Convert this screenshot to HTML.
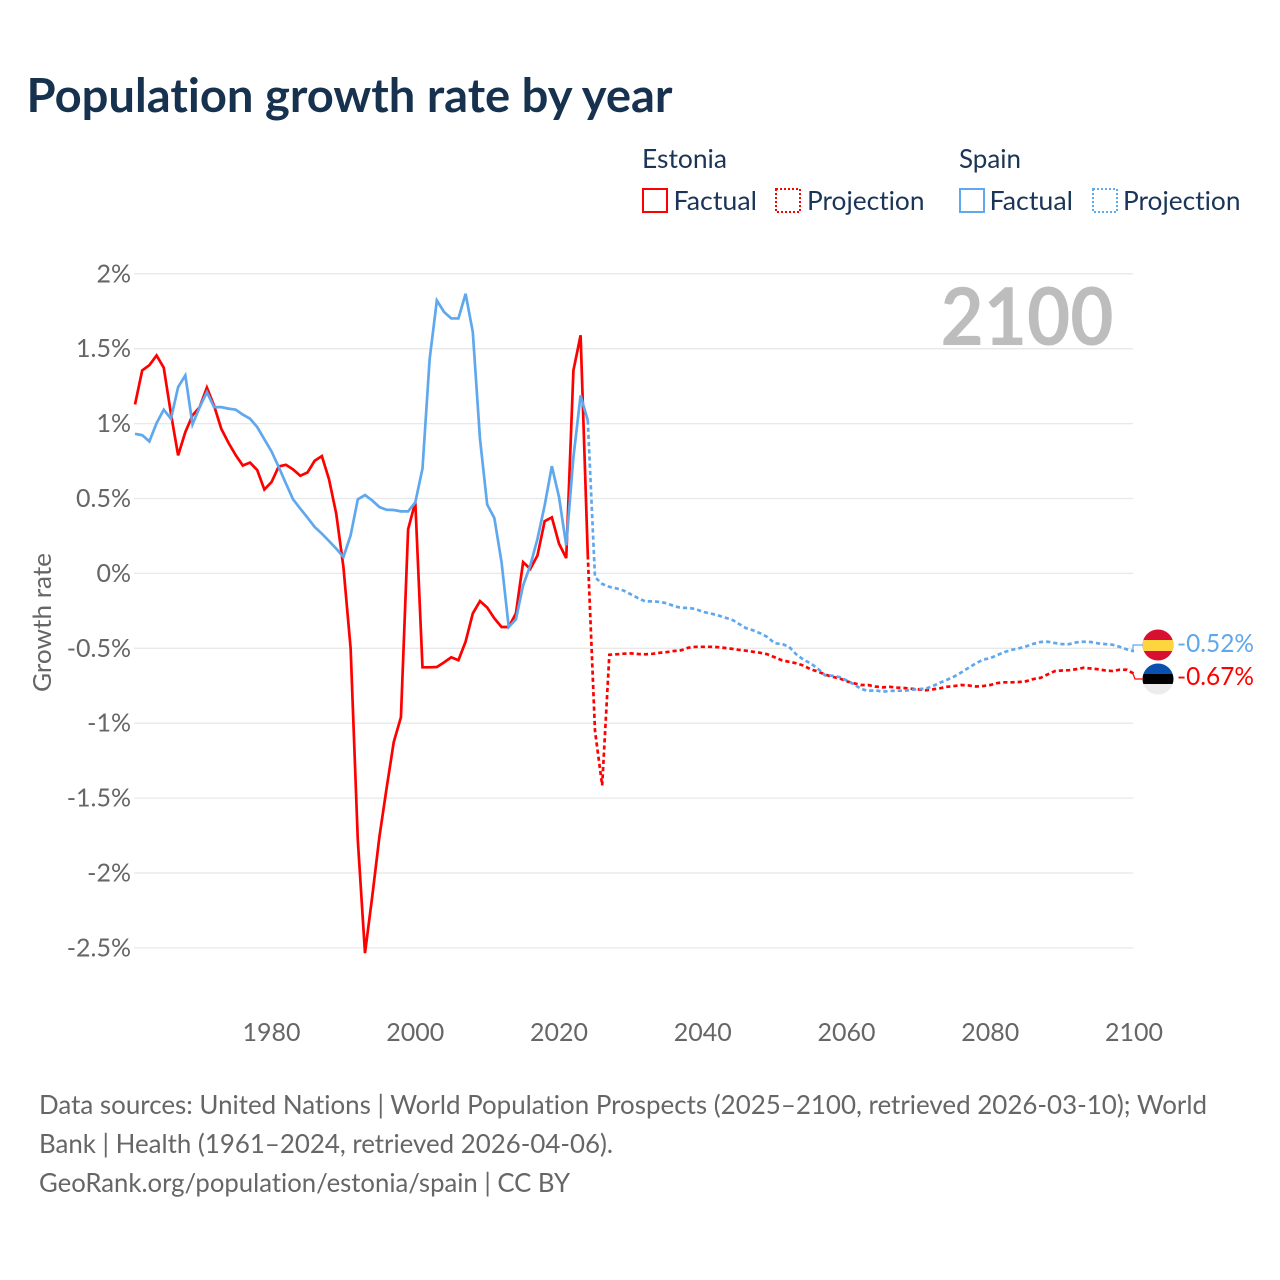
<!DOCTYPE html>
<html lang="en">
<head>
<meta charset="utf-8">
<title>Population growth rate by year</title>
<style>
html,body{margin:0;padding:0;background:#fff;}
svg{display:block;}
text{font-family:"Lato","Carlito","Liberation Sans",sans-serif;font-variant-ligatures:none;font-feature-settings:"liga" 0,"clig" 0;}
</style>
</head>
<body>
<svg id="chart" xmlns="http://www.w3.org/2000/svg" width="1280" height="1280" viewBox="0 0 1280 1280">
  <rect x="0" y="0" width="1280" height="1280" fill="#ffffff"/>
  <text x="26.5" y="112" font-size="47" font-weight="700" fill="#17324f" textLength="646" lengthAdjust="spacingAndGlyphs">Population growth rate by year</text>

  <g fill="#1a3557" font-size="26">
    <text x="642" y="168" textLength="85" lengthAdjust="spacingAndGlyphs">Estonia</text>
    <rect x="643" y="189" width="24" height="23" fill="none" stroke="#ff0000" stroke-width="2"/>
    <text x="673.5" y="210" textLength="83.5" lengthAdjust="spacingAndGlyphs">Factual</text>
    <rect x="776" y="189" width="24" height="23" fill="none" stroke="#ff0000" stroke-width="2" stroke-dasharray="2 2"/>
    <text x="807" y="210" textLength="117.5" lengthAdjust="spacingAndGlyphs">Projection</text>
    <text x="959" y="168" textLength="62" lengthAdjust="spacingAndGlyphs">Spain</text>
    <rect x="960" y="189" width="24" height="23" fill="none" stroke="#5fa8ee" stroke-width="2"/>
    <text x="989.5" y="210" textLength="83.5" lengthAdjust="spacingAndGlyphs">Factual</text>
    <rect x="1093" y="189" width="24" height="23" fill="none" stroke="#5fa8ee" stroke-width="2" stroke-dasharray="2 2"/>
    <text x="1123" y="210" textLength="117.5" lengthAdjust="spacingAndGlyphs">Projection</text>
  </g>

  <g id="grid"></g>
  <g id="yticks"></g>
  <g id="xticks"></g>
  <text transform="translate(51,622.5) rotate(-90)" text-anchor="middle" font-size="25" fill="#666666" textLength="139" lengthAdjust="spacingAndGlyphs">Growth rate</text>
  <text x="1113.5" y="345" text-anchor="end" font-size="80" font-weight="700" fill="#bdbdbd" textLength="173" lengthAdjust="spacingAndGlyphs">2100</text>

  <g id="series"></g>

  <defs>
    <clipPath id="clip-es"><circle cx="1158" cy="645" r="15.5"/></clipPath>
    <clipPath id="clip-ee"><circle cx="1158" cy="679" r="15.5"/></clipPath>
  </defs>
  <g clip-path="url(#clip-es)">
    <rect x="1142" y="629" width="32" height="32" fill="#d80f31"/>
    <rect x="1142" y="640" width="32" height="11" fill="#ffd53f"/>
  </g>
  <g clip-path="url(#clip-ee)">
    <rect x="1142" y="663" width="32" height="11" fill="#0a50ae"/>
    <rect x="1142" y="674" width="32" height="10" fill="#000000"/>
    <rect x="1142" y="684" width="32" height="11" fill="#ececec"/>
  </g>
  <g id="end-labels"></g>

  <g fill="#666666" font-size="26">
    <text x="39" y="1114" textLength="1168" lengthAdjust="spacingAndGlyphs">Data sources: United Nations | World Population Prospects (2025–2100, retrieved 2026-03-10); World</text>
    <text x="39" y="1153" textLength="574" lengthAdjust="spacingAndGlyphs">Bank | Health (1961–2024, retrieved 2026-04-06).</text>
    <text x="39" y="1192" textLength="531" lengthAdjust="spacingAndGlyphs">GeoRank.org/population/estonia/spain | CC BY</text>
  </g>
</svg>
<script>
const yTickValues = [2, 1.5, 1, 0.5, 0, -0.5, -1, -1.5, -2, -2.5];
const yTickLabels = ["2%", "1.5%", "1%", "0.5%", "0%", "-0.5%", "-1%", "-1.5%", "-2%", "-2.5%"];
const xTickYears = [1980, 2000, 2020, 2040, 2060, 2080, 2100];
const factualStartYear = 1961;
const projectionStartYear = 2025;

// Estonia, 1961 to 2024
const estoniaFactual = [
  1.128, 1.355, 1.39, 1.455, 1.373, 1.066, 0.788, 0.943, 1.055, 1.11,
  1.24, 1.12, 0.966, 0.872, 0.79, 0.72, 0.74, 0.69, 0.56, 0.61,
  0.714, 0.725, 0.694, 0.652, 0.674, 0.752, 0.783, 0.627, 0.398, 0.042,
  -0.5, -1.78, -2.535, -2.16, -1.76, -1.436, -1.126, -0.96, 0.294, 0.476,
  -0.627, -0.627, -0.625, -0.594, -0.56, -0.58, -0.455, -0.267, -0.185, -0.228,
  -0.3, -0.358, -0.358, -0.267, 0.075, 0.03, 0.12, 0.349, 0.374, 0.198,
  0.102, 1.355, 1.59, 0.12
];
// Spain, 1961 to 2024
const spainFactual = [
  0.932, 0.923, 0.881, 1.003, 1.093, 1.033, 1.244, 1.322, 0.995, 1.11,
  1.21, 1.11, 1.11, 1.1, 1.093, 1.06, 1.033, 0.977, 0.895, 0.814,
  0.71, 0.6, 0.494, 0.432, 0.372, 0.31, 0.265, 0.216, 0.165, 0.109,
  0.254, 0.494, 0.523, 0.487, 0.443, 0.425, 0.423, 0.414, 0.414, 0.474,
  0.7, 1.433, 1.822, 1.745, 1.702, 1.702, 1.867, 1.611, 0.899, 0.46,
  0.369, 0.075, -0.358, -0.307, -0.08, 0.053, 0.231, 0.454, 0.716, 0.509,
  0.187, 0.776, 1.188, 1.021
];
// Estonia, 2025 to 2100
const estoniaProjection = [
  -1.05, -1.415, -0.543, -0.54, -0.536, -0.534, -0.538, -0.54, -0.537, -0.53,
  -0.525, -0.518, -0.513, -0.496, -0.49, -0.49, -0.49, -0.492, -0.497, -0.503,
  -0.51, -0.516, -0.523, -0.53, -0.54, -0.56, -0.58, -0.59, -0.6, -0.615,
  -0.64, -0.655, -0.675, -0.69, -0.7, -0.72, -0.733, -0.745, -0.745, -0.755,
  -0.761, -0.757, -0.762, -0.765, -0.77, -0.774, -0.78, -0.774, -0.767, -0.757,
  -0.752, -0.745, -0.748, -0.755, -0.752, -0.745, -0.732, -0.727, -0.727, -0.725,
  -0.72, -0.705, -0.697, -0.674, -0.652, -0.648, -0.646, -0.639, -0.63, -0.635,
  -0.64, -0.648, -0.652, -0.643, -0.643, -0.67
];
// Spain, 2025 to 2100
const spainProjection = [
  -0.025, -0.07, -0.09, -0.1, -0.115, -0.14, -0.165, -0.187, -0.187, -0.19,
  -0.2, -0.218, -0.23, -0.23, -0.238, -0.256, -0.267, -0.278, -0.294, -0.307,
  -0.336, -0.365, -0.38, -0.4, -0.425, -0.467, -0.47, -0.49, -0.54, -0.576,
  -0.6, -0.636, -0.68, -0.683, -0.692, -0.714, -0.74, -0.77, -0.785, -0.78,
  -0.79, -0.785, -0.783, -0.783, -0.778, -0.772, -0.77, -0.752, -0.73, -0.71,
  -0.688, -0.66, -0.63, -0.6, -0.576, -0.565, -0.545, -0.525, -0.51, -0.5,
  -0.487, -0.47, -0.458, -0.456, -0.465, -0.472, -0.472, -0.46, -0.456, -0.458,
  -0.467, -0.472, -0.476, -0.49, -0.507, -0.52
];

const NS = "http://www.w3.org/2000/svg";
const plotLeft = 135;
const plotRight = 1134;
const xScale = function (year) { return 1134 + (year - 2100) * 7.187; };
const yScale = function (value) { return 573.4 - value * 149.8; };

function svgEl(tag, parent, attrs) {
  const el = document.createElementNS(NS, tag);
  Object.keys(attrs).forEach(function (k) { el.setAttribute(k, attrs[k]); });
  parent.appendChild(el);
  return el;
}

const gridGroup = document.getElementById("grid");
const yGroup = document.getElementById("yticks");
yTickValues.forEach(function (v, i) {
  const y = yScale(v);
  const line = svgEl("line", gridGroup, { x1: plotLeft - 1, x2: plotRight - 1, y1: y, y2: y, stroke: "#e8e8e8", "stroke-width": 1.3 });
  
  
  const t = svgEl("text", yGroup, { x: 131, y: y + 8.5, "text-anchor": "end", "font-size": 25, fill: "#666666" });
  
  
  t.textContent = yTickLabels[i];
});

const xGroup = document.getElementById("xticks");
xTickYears.forEach(function (year) {
  const t = svgEl("text", xGroup, { x: xScale(year), y: 1041, "text-anchor": "middle", "font-size": 25, fill: "#666666" });
  
  
  t.textContent = String(year);
});

function buildPoints(values, startYear) {
  return values.map(function (v, i) { return [xScale(startYear + i), yScale(v)]; });
}
function toPath(points) {
  return points.map(function (p, i) { return (i ? "L" : "M") + p[0].toFixed(2) + " " + p[1].toFixed(2); }).join(" ");
}

const seriesGroup = document.getElementById("series");
const red = "#ff0000";
const blue = "#5fa8ee";

const spainLabelY = 645;
const estoniaLabelY = 679;
const connectorEndX = 1143;

const estoniaDashPts = [[xScale(2024), yScale(estoniaFactual[estoniaFactual.length - 1])]].concat(buildPoints(estoniaProjection, projectionStartYear));
const spainDashPts = [[xScale(2024), yScale(spainFactual[spainFactual.length - 1])]].concat(buildPoints(spainProjection, projectionStartYear));

const estoniaFactualLine = svgEl("path", seriesGroup, { d: toPath(buildPoints(estoniaFactual, factualStartYear)), fill: "none", stroke: red, "stroke-width": 2.7 });



const estoniaProjectionLine = svgEl("path", seriesGroup, { d: toPath(estoniaDashPts), fill: "none", stroke: red, "stroke-width": 2.7, "stroke-dasharray": "4.2 3" });



const spainFactualLine = svgEl("path", seriesGroup, { d: toPath(buildPoints(spainFactual, factualStartYear)), fill: "none", stroke: blue, "stroke-width": 2.7 });



const spainProjectionLine = svgEl("path", seriesGroup, { d: toPath(spainDashPts), fill: "none", stroke: blue, "stroke-width": 2.7, "stroke-dasharray": "4.2 3" });



const estoniaEndY = yScale(estoniaProjection[estoniaProjection.length - 1]);
const spainEndY = yScale(spainProjection[spainProjection.length - 1]);
const labelGroup = document.getElementById("end-labels");

const spainConnector = svgEl("path", labelGroup, { d: "M" + (plotRight - 1) + " " + spainEndY + " V" + spainLabelY + " H" + connectorEndX, fill: "none", stroke: blue, "stroke-width": 1.2 });



const estoniaConnector = svgEl("path", labelGroup, { d: "M" + (plotRight - 1) + " " + estoniaEndY + " L" + (plotRight + 1) + " " + estoniaLabelY + " H" + connectorEndX, fill: "none", stroke: red, "stroke-width": 1.2 });



function formatPercent(v) { return v.toFixed(2) + "%"; }

const spainEndLabel = svgEl("text", labelGroup, { x: 1177, y: spainLabelY + 7, "font-size": 25.5, fill: blue, textLength: 77, lengthAdjust: "spacingAndGlyphs" });


spainEndLabel.textContent = formatPercent(spainProjection[spainProjection.length - 1]);

const estoniaEndLabel = svgEl("text", labelGroup, { x: 1177, y: estoniaLabelY + 6, "font-size": 25.5, fill: red, textLength: 77, lengthAdjust: "spacingAndGlyphs" });


estoniaEndLabel.textContent = formatPercent(estoniaProjection[estoniaProjection.length - 1]);
</script>
</body>
</html>
